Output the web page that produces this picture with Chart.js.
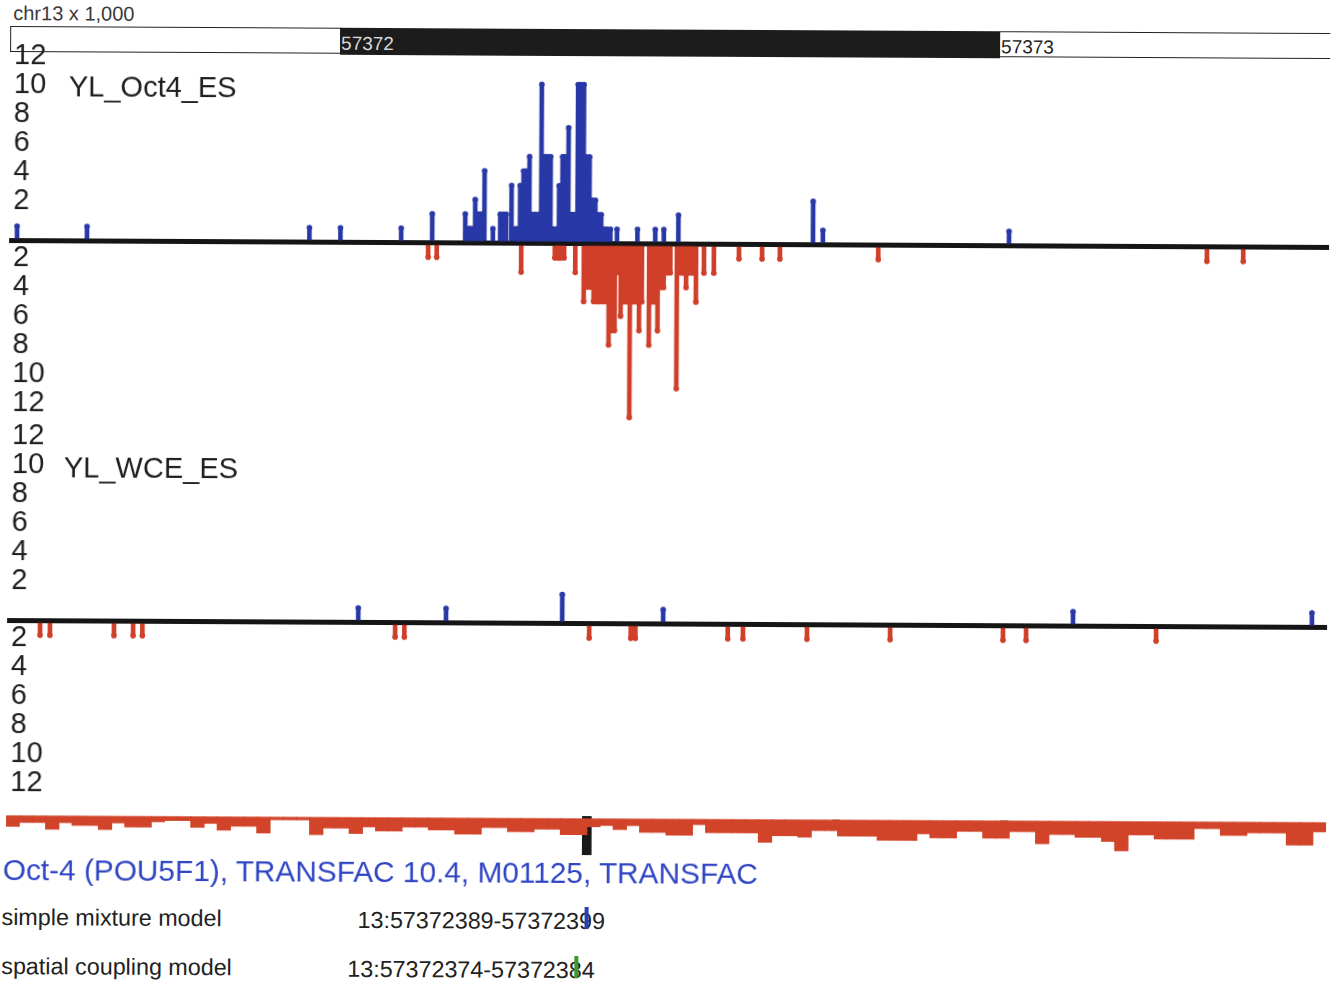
<!DOCTYPE html>
<html>
<head>
<meta charset="utf-8">
<script src="https://cdn.jsdelivr.net/npm/chart.js@4.4.0/dist/chart.umd.min.js"></script>
<style>
html, body { margin: 0; padding: 0; background: #fff; }
body { width: 1333px; height: 984px; overflow: hidden; position: relative; font-family: "Liberation Sans", Arial, sans-serif; }
#page { position: absolute; left: 0; top: 0; width: 1333px; height: 984px; transform: rotate(0.3deg); transform-origin: 0 450px; }
canvas { position: absolute; left: 0; }
.txt { position: absolute; white-space: nowrap; line-height: 1; }
.box { position: absolute; box-sizing: border-box; }
</style>
</head>
<body>
<div id="page">
  <div class="txt" style="left:11px; top:3px; font-size:20px; color:#3a3a3a;">chr13 x 1,000</div>
  <div class="box" style="left:8px; top:26px; width:331px; height:26px; border:1.5px solid #222; background:#fff;"></div>
  <div class="box" style="left:338px; top:26px; width:660px; height:27px; background:#1c1c1c;"></div>
  <div class="box" style="left:998px; top:26px; width:330px; height:26px; border-top:1.5px solid #222; border-bottom:1.5px solid #222;"></div>
  <div class="txt" id="rl1" style="top:32px; font-size:19px; color:#d8d8d8;">57372</div>
  <div class="txt" id="rl2" style="top:32px; font-size:19px; color:#222;">57373</div>

  <canvas id="oct4" width="1333" height="430" style="top:20px;"></canvas>
  <canvas id="wce" width="1333" height="430" style="top:400px;"></canvas>
  <canvas id="cons" width="1333" height="75" style="top:795px;"></canvas>

  <div class="txt" style="left:67px; top:72px; font-size:29px; color:#1e1e1e;">YL_Oct4_ES</div>
  <div class="txt" style="left:64px; top:453px; font-size:29px; color:#1e1e1e;">YL_WCE_ES</div>

  <div class="txt" style="left:5px; top:855px; font-size:29.8px; color:#2f45c4;">Oct-4 (POU5F1), TRANSFAC 10.4, M01125, TRANSFAC</div>
  <div class="txt" style="left:4px; top:906px; font-size:23.3px; color:#222;">simple mixture model</div>
  <div class="txt" style="left:360px; top:907px; font-size:23.3px; color:#222;">13:57372389-57372399</div>
  <div class="box" id="mk1" style="top:904px; width:4px; height:22px; background:#2b3fb0;"></div>
  <div class="txt" style="left:4px; top:955px; font-size:23.3px; color:#222;">spatial coupling model</div>
  <div class="txt" style="left:350px; top:956px; font-size:23.3px; color:#222;">13:57372374-57372384</div>
  <div class="box" id="mk2" style="top:953px; width:4px; height:22px; background:#3a9a2a;"></div>
</div>
<script>
// view on chr13 (bp)
const viewStart = 57371500;
const viewEnd = 57373500;
const rulerLabels = [57372000, 57373000];
const yTickVals = [2, 4, 6, 8, 10, 12];

// YL_Oct4_ES read counts, forward strand (up, blue)
const oct4FwdPos = [57371512, 57371618, 57371955, 57372002, 57372094, 57372141, 57372191, 57372196, 57372200,
  57372206, 57372211, 57372215, 57372220, 57372233, 57372244, 57372249, 57372253, 57372261, 57372267, 57372271,
  57372274, 57372279, 57372283, 57372288, 57372292, 57372297, 57372302, 57372306, 57372311, 57372315, 57372320,
  57372324, 57372329, 57372333, 57372338, 57372342, 57372347, 57372352, 57372356, 57372361, 57372365, 57372370,
  57372374, 57372379, 57372383, 57372388, 57372392, 57372397, 57372402, 57372406, 57372411, 57372421, 57372452,
  57372479, 57372492, 57372514, 57372718, 57372733, 57373015];
const oct4FwdVal = [1, 1, 1, 1, 1, 2, 2, 1, 1,
  3, 2, 2, 5, 1, 2, 2, 2, 4, 1, 1,
  4, 5, 5, 6, 2, 2, 2, 11, 6, 6, 6,
  1, 1, 4, 6, 6, 8, 2, 2, 11, 11, 11,
  6, 6, 3, 3, 2, 2, 1, 1, 1, 1, 1,
  1, 1, 2, 3, 1, 1];

// YL_Oct4_ES read counts, reverse strand (down, red)
const oct4RevPos = [57372135, 57372148, 57372276, 57372327, 57372332, 57372336, 57372341, 57372358, 57372371,
  57372377, 57372382, 57372386, 57372391, 57372395, 57372400, 57372405, 57372409, 57372414, 57372418, 57372423,
  57372427, 57372432, 57372436, 57372441, 57372445, 57372450, 57372455, 57372459, 57372470, 57372474, 57372479,
  57372483, 57372488, 57372492, 57372497, 57372502, 57372512, 57372517, 57372521, 57372526, 57372530, 57372535,
  57372541, 57372553, 57372568, 57372606, 57372641, 57372668, 57372817, 57373315, 57373370];
const oct4RevVal = [1, 1, 2, 1, 1, 1, 1, 2, 4,
  3, 3, 4, 4, 4, 4, 4, 7, 6, 6, 2,
  5, 4, 4, 12, 4, 4, 6, 4, 7, 4, 4,
  6, 3, 3, 2, 2, 10, 2, 2, 3, 2, 2,
  4, 2, 2, 1, 1, 1, 1, 1, 1];

// YL_WCE_ES read counts
const wceFwdPos = [57372032, 57372165, 57372341, 57372494, 57373115, 57373477];
const wceFwdVal = [1, 1, 2, 1, 1, 1];
const wceRevPos = [57371550, 57371565, 57371662, 57371691, 57371705, 57372088, 57372102, 57372382, 57372445,
  57372452, 57372592, 57372615, 57372712, 57372838, 57373009, 57373044, 57373241];
const wceRevVal = [1, 1, 1, 1, 1, 1, 1, 1, 1, 1, 1, 1, 1, 1, 1, 1, 1];

// conservation track, 20 bp bins starting at consFirst
const consFirst = 57371510;
const consStep = 20;
const consDepth = [8, 5, 5, 10, 5, 7, 7, 10, 5, 8,
  8, 4, 3, 3, 8, 5, 10, 7, 7, 12,
  2, 2, 2, 13, 8, 8, 12, 7, 10, 10,
  7, 7, 9, 9, 12, 12, 7, 7, 10, 10,
  8, 8, 12, 12, 6, 5, 8, 5, 10, 10,
  12, 12, 4, 10, 10, 10, 10, 17, 12, 12,
  13, 8, 8, 12, 12, 12, 15, 15, 15, 10,
  13, 13, 8, 8, 13, 13, 8, 8, 17, 10,
  10, 12, 12, 15, 22, 10, 10, 13, 13, 13,
  5, 5, 10, 10, 8, 8, 8, 17, 17, 7];
// motif hit (black) and small marks
const motifPos = [57372380];
const marksPos = [57372758, 57373012];

const blue = '#2838a6';
const red = '#d03f29';

function pxOf(bp) { return 8 + (bp - viewStart) * 1320 / (viewEnd - viewStart); }
document.getElementById('rl1').style.left = (pxOf(rulerLabels[0]) + 1) + 'px';
document.getElementById('rl2').style.left = (pxOf(rulerLabels[1]) + 1) + 'px';
document.getElementById('mk1').style.left = '587px';
document.getElementById('mk2').style.left = '577px';

const xScale = { type: 'linear', min: viewStart, max: viewEnd, display: false, offset: false };

function track(id, fwdPos, fwdVal, revPos, revVal) {
  const up = fwdPos.map((x, i) => ({ x: x, y: fwdVal[i] }));
  const dn = revPos.map((x, i) => ({ x: x, y: -revVal[i] }));
  const yTicks = yTickVals.map(v => -v).reverse().concat([0], yTickVals);
  new Chart(document.getElementById(id), {
    type: 'bar',
    data: {
      datasets: [
        { data: up, backgroundColor: blue, barThickness: 4, grouped: false },
        { data: dn, backgroundColor: red, barThickness: 4, grouped: false },
        { type: 'line', data: up, showLine: false, pointRadius: 2.8, pointBackgroundColor: blue, pointBorderWidth: 0 },
        { type: 'line', data: dn, showLine: false, pointRadius: 2.8, pointBackgroundColor: red, pointBorderWidth: 0 }
      ]
    },
    options: {
      responsive: false,
      animation: false,
      layout: { padding: { left: 0, right: 5, top: 32.5, bottom: 20.5 } },
      plugins: { legend: { display: false }, tooltip: { enabled: false } },
      scales: {
        x: xScale,
        y: {
          min: -13, max: 13, z: 1,
          afterBuildTicks: axis => { axis.ticks = yTicks.map(v => ({ value: v })); },
          ticks: {
            mirror: true, padding: 4, autoSkip: false, labelOffset: -11,
            color: '#1e1e1e', font: { family: 'Liberation Sans', size: 29 },
            callback: v => v === 0 ? '' : String(Math.abs(v))
          },
          grid: {
            drawTicks: false,
            color: c => (c.tick && c.tick.value === 0) ? '#151515' : 'rgba(0,0,0,0)',
            lineWidth: c => (c.tick && c.tick.value === 0) ? 5 : 0
          },
          border: { display: false }
        }
      }
    }
  });
}

track('oct4', oct4FwdPos, oct4FwdVal, oct4RevPos, oct4RevVal);
track('wce', wceFwdPos, wceFwdVal, wceRevPos, wceRevVal);

new Chart(document.getElementById('cons'), {
  type: 'bar',
  data: {
    datasets: [
      { data: consDepth.map((d, k) => ({ x: consFirst + k * consStep, y: -d })), backgroundColor: '#d2442a', barThickness: 13.6, grouped: false },
      { data: motifPos.map(x => ({ x: x, y: [-27, 2] })), backgroundColor: '#1a1a1a', barThickness: 9, grouped: false },
      { data: marksPos.map(x => ({ x: x, y: [-2, 0] })), backgroundColor: '#1a1a1a', barThickness: 7, grouped: false }
    ]
  },
  options: {
    responsive: false,
    animation: false,
    layout: { padding: { left: 8, right: 5, top: 18, bottom: 17 } },
    plugins: { legend: { display: false }, tooltip: { enabled: false } },
    scales: {
      x: xScale,
      y: { min: -28, max: 2, display: false }
    }
  }
});
</script>
</body>
</html>
